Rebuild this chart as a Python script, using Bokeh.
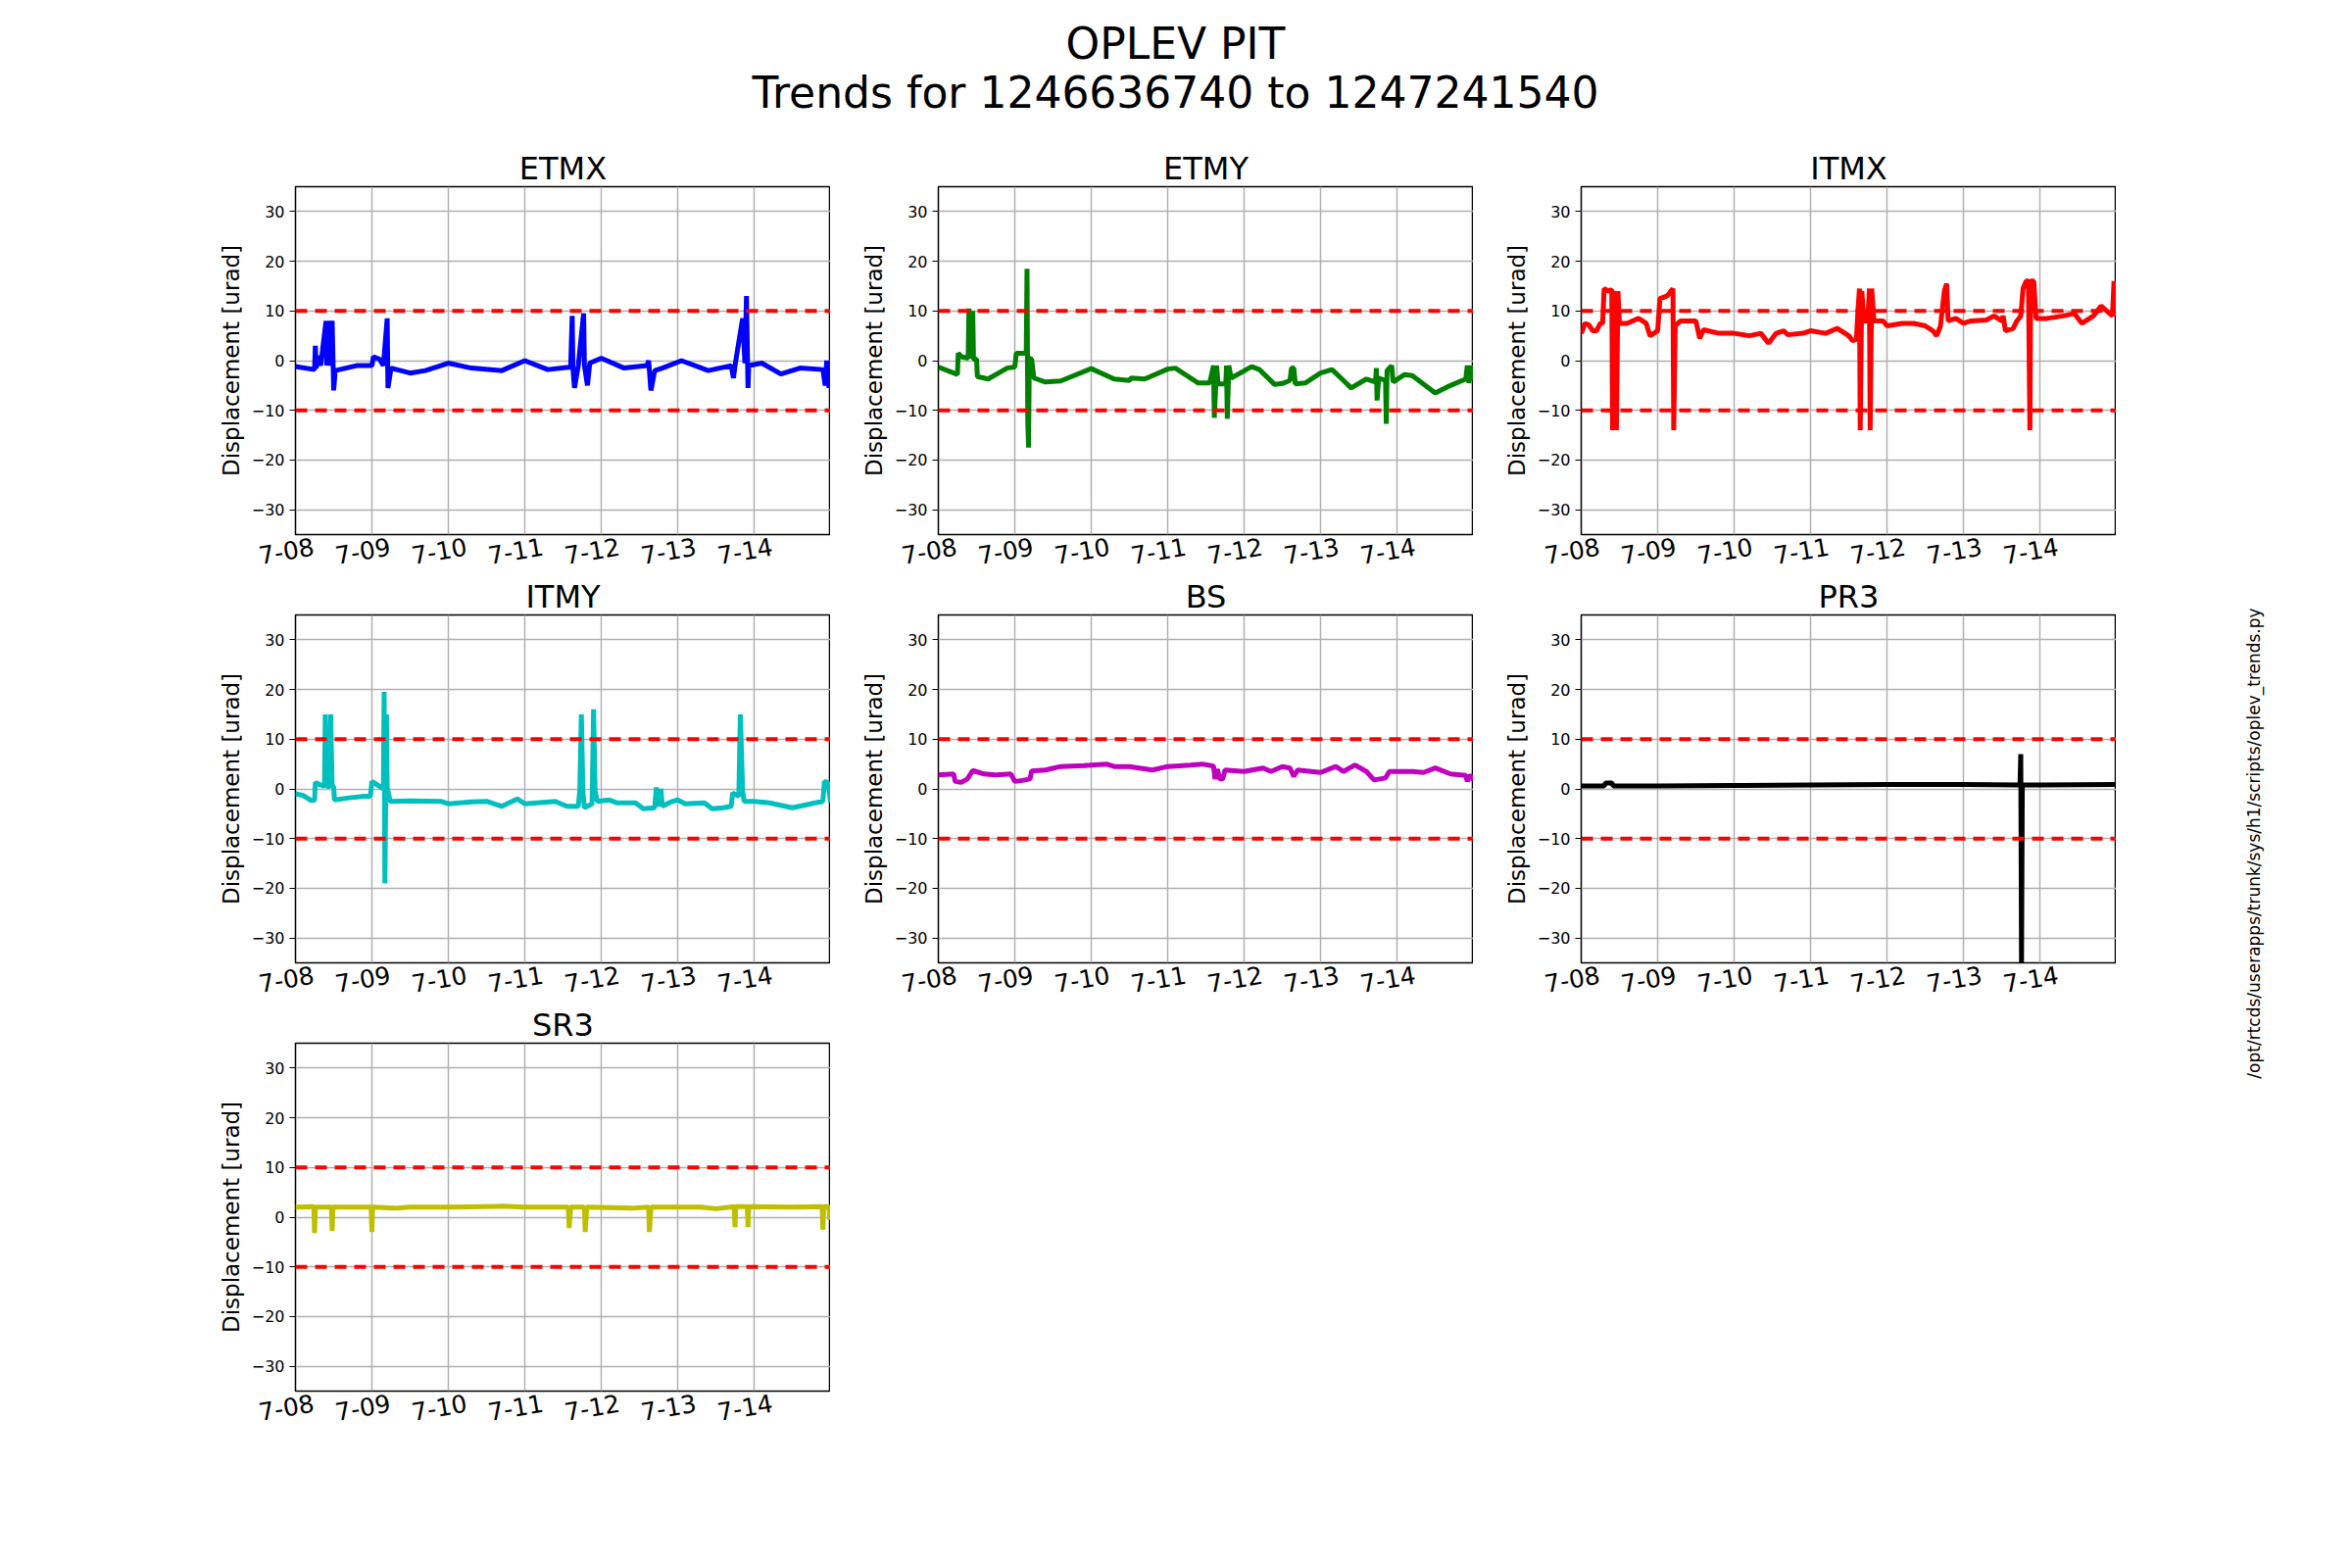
import math
from bokeh.plotting import figure
from bokeh.layouts import column, row, gridplot
from bokeh.models import Span, Spacer, FixedTicker, LinearAxis, Range1d
from bokeh.core.properties import value
from bokeh.embed import file_html
from bokeh.resources import INLINE

FONT = "DejaVu Sans"
day_ticks = [0, 1, 2, 3, 4, 5, 6]
day_labels = ["7-08", "7-09", "7-10", "7-11", "7-12", "7-13", "7-14"]

etmx_x = [0, 0.25, 0.26, 0.27, 0.3, 0.33, 0.4, 0.41, 0.45, 0.46, 0.48, 0.5, 0.52, 0.8, 1.0, 1.02, 1.1, 1.15,
          1.2, 1.21, 1.25, 1.5, 1.7, 2.0, 2.3, 2.7, 3.0, 3.3, 3.6, 3.62, 3.63, 3.65, 3.7, 3.77, 3.78, 3.82,
          3.85, 4.0, 4.3, 4.6, 4.62, 4.65, 4.7, 4.8, 5.05, 5.4, 5.7, 5.73, 5.75, 5.85, 5.88, 5.9, 5.92, 5.93,
          6.1, 6.35, 6.6, 6.9, 6.93, 6.95, 6.98, 7.0]
etmx_y = [-1.2, -1.8, 3, -1.5, 1, -1, 8, -1, 8, -1, 8, -6, -2, -1, -1, 0.8, 0.3, -1,
          8.5, -5.5, -1.5, -2.5, -2, -0.5, -1.5, -2, 0, -1.8, -1.3, 9, -1.5, -5.5, -1, 9.5, -1, -5,
          -0.5, 0.5, -1.5, -1, 0, -6, -2, -1.5, 0, -2, -1, -3.5, -1, 8.5, -0.5, 13, -5.5, -1,
          -0.5, -2.7, -1.5, -1.8, -5, 0, -5.5, 0]

etmy_x = [0, 0.25, 0.26, 0.3, 0.39, 0.4, 0.41, 0.45, 0.46, 0.5, 0.51, 0.65, 0.9, 1.0, 1.02, 1.13, 1.15, 1.16,
          1.17, 1.18, 1.19, 1.22, 1.25, 1.4, 1.6, 2.0, 2.3, 2.5, 2.52, 2.7, 3.0, 3.1, 3.4, 3.55, 3.6, 3.61,
          3.64, 3.66, 3.76, 3.77, 3.78, 3.8, 3.83, 4.1, 4.2, 4.4, 4.5, 4.6, 4.62, 4.65, 4.67, 4.8, 5.0, 5.15,
          5.3, 5.4, 5.6, 5.72, 5.73, 5.74, 5.76, 5.85, 5.86, 5.87, 5.93, 5.95, 6.1, 6.2, 6.5, 6.7, 6.9, 6.92,
          6.94, 6.97, 7.0]
etmy_y = [-1.3, -2.8, 1.5, 0.8, 0.5, 10.5, 0.5, 10, 0.3, 0.3, -3.2, -3.7, -1.5, -1.3, 1.5, 1.5, 1.8, 18.5,
          -12, -17.5, 0.5, 0.3, -3.5, -4.3, -4.1, -1.6, -3.7, -4, -3.5, -3.7, -1.7, -1.5, -4.5, -4.5, -1, -11.5,
          -1, -4.7, -4.7, -1, -11.7, -1, -3.5, -1.2, -1.8, -4.8, -4.6, -4, -1.5, -1.5, -4.7, -4.5, -2.5, -1.8,
          -4, -5.5, -3.7, -4.3, -1.5, -8, -3.5, -4, -12.7, -2, -1, -4.3, -2.8, -3, -6.5, -5, -3.7, -1,
          -4.5, -1, -4]

itmx_x = [0, 0.05, 0.1, 0.15, 0.2, 0.25, 0.28, 0.3, 0.35, 0.4, 0.41, 0.44, 0.46, 0.48, 0.5, 0.6, 0.75, 0.85,
          0.9, 1.0, 1.03, 1.12, 1.15, 1.2, 1.21, 1.23, 1.3, 1.5, 1.55, 1.6, 1.8, 2.0, 2.2, 2.35, 2.45, 2.55,
          2.65, 2.7, 2.9, 3.0, 3.2, 3.35, 3.4, 3.5, 3.55, 3.6, 3.62, 3.64, 3.65, 3.67, 3.7, 3.75, 3.77, 3.78,
          3.8, 3.83, 3.95, 4.0, 4.2, 4.35, 4.5, 4.6, 4.65, 4.7, 4.75, 4.78, 4.8, 4.9, 5.0, 5.1, 5.3, 5.4,
          5.5, 5.52, 5.55, 5.65, 5.7, 5.75, 5.78, 5.82, 5.85, 5.87, 5.88, 5.92, 5.95, 6.1, 6.3, 6.45, 6.55,
          6.7, 6.8, 6.95, 6.97, 6.98, 7.0]
itmx_y = [5.5, 7.5, 7.2, 6, 6, 7.5, 7.5, 14.5, 14, 14.3, -14, 14, -14, 14, 7.5, 7.5, 8.5, 7.5,
          5, 6, 12.5, 13, 13.5, 14.5, -14, 7, 8, 8, 4.5, 6.2, 5.5, 5.5, 5, 5.5, 3.5, 5.5,
          6, 5.2, 5.5, 6, 5.5, 6.5, 6, 5, 4, 4.3, 10, 14.5, -14, 14, 8, 8, 14.5, -14,
          14.5, 8, 8, 7, 7.5, 7.5, 7, 6, 5, 7, 14, 15.5, 8, 8.5, 7.5, 8, 8.2, 9,
          8, 9, 6, 6.5, 8, 9, 14.5, 16, 16, -14, 16, 16, 8.5, 8.5, 9, 9.5, 7.5,
          9, 11, 9, 16, 9, 15]

itmy_x = [0, 0.1, 0.2, 0.25, 0.26, 0.33, 0.38, 0.39, 0.41, 0.45, 0.46, 0.48, 0.5, 0.51, 0.7, 0.9, 0.98, 1.0,
          1.1, 1.15, 1.16, 1.17, 1.19, 1.2, 1.24, 1.5, 1.9, 2.0, 2.3, 2.5, 2.7, 2.9, 3.0, 3.4, 3.55, 3.7,
          3.72, 3.74, 3.76, 3.78, 3.88, 3.9, 3.92, 3.95, 4.1, 4.2, 4.45, 4.55, 4.7, 4.72, 4.75, 4.78, 4.8, 4.9,
          5.0, 5.1, 5.35, 5.45, 5.6, 5.7, 5.72, 5.8, 5.82, 5.85, 5.87, 6.0, 6.2, 6.5, 6.8, 6.9, 6.92, 6.97, 7.0]
itmy_y = [-1, -1.3, -2.3, -2.3, 1.3, 0.8, 0.5, 15, 0.5, 0.5, 15, 0.8, 0.3, -2.2, -1.8, -1.5, -1.5, 1.5,
          0.5, 0, 19.5, -19, 15, 0.2, -2.5, -2.4, -2.5, -3, -2.6, -2.5, -3.5, -2, -3, -2.5, -3.5, -3.5,
          -0.3, 15, -0.5, -3.8, -3, 16, -0.5, -2.5, -2.2, -2.8, -2.8, -4, -3.8, 0.3, -3.5, 0, -3.5, -2.7,
          -2.2, -3, -2.8, -4, -3.8, -3.5, -0.8, -1.5, 15, -0.5, -2.5, -2.5, -2.8, -3.8, -2.8, -2.5, 1.5, 1.3, -2.7]

bs_x = [0, 0.2, 0.22, 0.3, 0.38, 0.45, 0.6, 0.75, 0.95, 1.0, 1.1, 1.2, 1.22, 1.4, 1.6, 1.9, 2.2, 2.3, 2.5,
        2.8, 3.0, 3.3, 3.45, 3.6, 3.62, 3.65, 3.68, 3.72, 3.75, 4.0, 4.25, 4.35, 4.5, 4.6, 4.65, 4.7, 5.0,
        5.2, 5.3, 5.45, 5.6, 5.7, 5.85, 5.9, 6.2, 6.35, 6.5, 6.7, 6.9, 6.92, 6.95, 7.0]
bs_y = [2.8, 3, 1.5, 1.3, 2, 3.7, 3, 2.8, 3, 1.5, 1.7, 2, 3.6, 3.8, 4.5, 4.7, 5, 4.5, 4.5,
        3.8, 4.5, 4.8, 5, 4.6, 2, 4, 2, 2, 3.8, 3.5, 4.2, 3.5, 4.5, 4.2, 2.5, 3.8, 3.3,
        4.5, 3.5, 4.8, 3.5, 1.8, 2.2, 3.5, 3.5, 3.3, 4.2, 3, 2.7, 1.5, 2.8, 1.8]

pr3_x = [0, 0.3, 0.32, 0.4, 0.42, 1.0, 2.0, 3.0, 4.0, 5.0, 5.74, 5.75, 5.76, 5.77, 6.0, 7.0]
pr3_y = [0.6, 0.6, 1.2, 1.2, 0.6, 0.6, 0.7, 0.8, 0.9, 0.9, 0.8, 7, -35, 0.8, 0.8, 0.9]

sr3_x = [0, 0.24, 0.25, 0.26, 0.47, 0.48, 0.49, 0.99, 1.0, 1.01, 1.3, 1.5, 2.0, 2.7, 3.0, 3.57, 3.58,
         3.6, 3.78, 3.79, 3.81, 4.4, 4.62, 4.63, 4.65, 5.3, 5.5, 5.74, 5.75, 5.76, 5.91, 5.92, 5.93, 6.5,
         6.89, 6.9, 6.91, 6.98, 6.99, 7.0]
sr3_y = [2, 2.1, -3.2, 2, 2, -2.8, 2, 2, -3, 2, 1.8, 2, 2, 2.2, 2, 2, -2.2, 2, 2, -3, 2, 1.8, 2, -3, 2,
         2, 1.7, 2.1, -2, 2.1, 2.1, -2, 2.1, 2, 2.1, -2.5, 2.1, 2.1, -0.5, 2]

series = [("ETMX", etmx_x, etmx_y, "#0000ff"), ("ETMY", etmy_x, etmy_y, "#008000"),
          ("ITMX", itmx_x, itmx_y, "#ff0000"), ("ITMY", itmy_x, itmy_y, "#00bfbf"),
          ("BS", bs_x, bs_y, "#bf00bf"), ("PR3", pr3_x, pr3_y, "#000000"),
          ("SR3", sr3_x, sr3_y, "#bfbf00")]

LABEL_SHIFT = 0.24  # rotated labels sit centred under their tick, as in matplotlib


def panel(name, xs, ys, color):
    p = figure(width=656, height=437, x_range=(0, 7), y_range=(-35, 35),
               output_backend="svg", toolbar_location=None, x_axis_location=None,
               min_border_left=110, min_border_right=0, min_border_top=30, min_border_bottom=30)
    p.title.text = name
    p.title.align = "center"
    p.title.text_font = FONT
    p.title.text_font_size = "32px"
    p.title.text_font_style = "normal"
    p.title.text_color = "black"
    p.title.standoff = 0
    p.outline_line_color = "black"
    p.outline_line_width = 1.5
    p.line(xs, ys, line_color=color, line_width=5)
    for lvl in (10, -10):
        p.add_layout(Span(location=lvl, dimension="width", line_color="#ff0000",
                          line_width=4, line_dash="12 8"))
    p.xgrid.ticker = FixedTicker(ticks=day_ticks)
    # label-only axis on a shifted range
    p.extra_x_ranges = {"lab": Range1d(-LABEL_SHIFT, 7 - LABEL_SHIFT)}
    lab = LinearAxis(x_range_name="lab", ticker=FixedTicker(ticks=day_ticks),
                     major_label_overrides={t: l for t, l in zip(day_ticks, day_labels)})
    lab.major_label_orientation = 0.17
    lab.major_label_standoff = 12
    lab.major_label_text_font = FONT
    lab.major_label_text_font_size = "25px"
    lab.major_label_text_color = "black"
    lab.major_tick_line_color = None
    lab.major_tick_in = 0
    lab.major_tick_out = 0
    lab.axis_line_color = None
    lab.minor_tick_line_color = None
    p.add_layout(lab, "below")
    p.yaxis.ticker = FixedTicker(ticks=[-30, -20, -10, 0, 10, 20, 30])
    p.yaxis.major_label_overrides = {-30: "\u221230", -20: "\u221220", -10: "\u221210"}
    p.yaxis.major_label_text_font = FONT
    p.yaxis.major_label_text_font_size = "16px"
    p.yaxis.major_label_text_color = "black"
    p.yaxis.axis_label = "Displacement [urad]"
    p.yaxis.axis_label_text_font = FONT
    p.yaxis.axis_label_text_font_size = "23px"
    p.yaxis.axis_label_text_font_style = "normal"
    p.yaxis.axis_label_text_color = "black"
    p.yaxis.axis_line_color = None
    p.yaxis.minor_tick_line_color = None
    p.yaxis.major_tick_in = 0
    p.yaxis.major_tick_out = 6
    p.grid.grid_line_color = "#b0b0b0"
    p.grid.grid_line_alpha = 1
    p.grid.grid_line_width = 1.5
    return p


panels = [panel(*s) for s in series]
grid = gridplot([panels[0:3], panels[3:6], [panels[6], None, None]], toolbar_location=None)

head = figure(width=2384, height=150, x_range=(0, 2384), y_range=(150, 0),
              output_backend="svg", toolbar_location=None, min_border=0)
head.text(x=[1199, 1199], y=[44, 94], text=["OPLEV PIT", "Trends for 1246636740 to 1247241540"],
          text_font=value(FONT), text_font_size="44px", text_align="center", text_baseline="middle")
head.axis.visible = False
head.grid.visible = False
head.outline_line_color = None

side = figure(width=200, height=1311, x_range=(0, 200), y_range=(1311, 0),
              output_backend="svg", toolbar_location=None, min_border=0)
side.text(x=[140], y=[710], text=["/opt/rtcds/userapps/trunk/sys/h1/scripts/oplev_trends.py"],
          angle=math.pi / 2, text_font=value(FONT), text_font_size="17px",
          text_align="center", text_baseline="middle")
side.axis.visible = False
side.grid.visible = False
side.outline_line_color = None

layout = column(head, row(Spacer(width=191, height=10), grid, side))
open("out.html", "w").write(file_html(layout, INLINE))
